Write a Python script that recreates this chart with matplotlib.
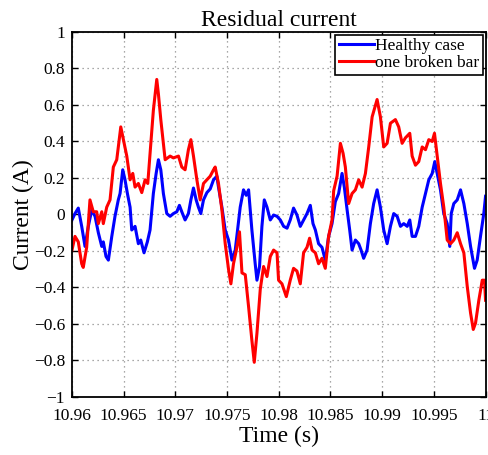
import numpy as np
import matplotlib
matplotlib.use("Agg")
import matplotlib.pyplot as plt
from matplotlib.ticker import FixedLocator, FuncFormatter

plt.rcParams['font.family'] = ['Liberation Serif', 'DejaVu Serif']

T0 = 10.96

# healthy machine, time in ms after T0
healthy_ms = [0.0, 0.29, 0.61, 0.94, 1.26, 1.58, 1.91, 2.23, 2.55, 2.88, 3.03, 3.29, 3.52,
              3.85, 4.16, 4.48, 4.65, 4.91, 5.13, 5.36, 5.62, 5.78, 6.10, 6.42, 6.65, 6.97,
              7.29, 7.55, 7.87, 8.14, 8.36, 8.59, 8.84, 9.17, 9.49, 9.81, 10.14, 10.39, 10.62,
              10.94, 11.26, 11.50, 11.75, 12.01, 12.23, 12.46, 12.72, 13.05, 13.37, 13.69,
              14.01, 14.17, 14.50, 14.82, 15.14, 15.47, 15.79, 16.01, 16.27, 16.59, 16.85,
              17.08, 17.40, 17.72, 17.89, 18.14, 18.37, 18.60, 18.86, 19.18, 19.50, 19.83,
              20.15, 20.47, 20.80, 21.11, 21.43, 21.76, 22.08, 22.40, 22.73, 23.05, 23.31,
              23.54, 23.85, 24.18, 24.50, 24.82, 25.15, 25.47, 25.79, 26.12, 26.34, 26.61,
              26.86, 27.09, 27.41, 27.73, 27.96, 28.21, 28.54, 28.86, 29.18, 29.51, 29.83,
              30.15, 30.48, 30.80, 31.12, 31.45, 31.77, 32.09, 32.42, 32.67, 32.90, 33.22,
              33.54, 33.87, 34.19, 34.51, 34.84, 35.09, 35.32, 35.64, 35.96, 36.29, 36.54,
              36.68, 36.93, 37.26, 37.58, 37.90, 38.23, 38.55, 38.93, 39.19, 39.51, 39.83,
              40.0]
healthy_i = [-0.03, 0.005, 0.035, -0.065, -0.175, -0.065, 0.025, -0.01, -0.10, -0.175, -0.15,
             -0.23, -0.25, -0.12, -0.01, 0.08, 0.115, 0.245, 0.19, 0.115, 0.04, -0.085, -0.065,
             -0.16, -0.14, -0.21, -0.15, -0.085, 0.115, 0.225, 0.30, 0.245, 0.115, 0.005, -0.01,
             0.005, 0.015, 0.05, 0.015, -0.03, 0.005, 0.08, 0.145, 0.08, 0.04, 0.005, 0.08,
             0.12, 0.14, 0.19, 0.21, 0.15, 0.04, -0.085, -0.14, -0.25, -0.195, -0.085, 0.04,
             0.135, 0.105, 0.135, -0.085, -0.27, -0.36, -0.285, -0.065, 0.08, 0.04, -0.03,
             -0.003, -0.01, -0.03, -0.065, -0.075, -0.03, 0.035, -0.003, -0.065, -0.03, 0.005,
             0.05, -0.05, -0.085, -0.16, -0.18, -0.25, -0.12, -0.05, 0.07, 0.115, 0.225, 0.15,
             0.025, -0.085, -0.195, -0.14, -0.16, -0.195, -0.24, -0.195, -0.05, 0.06, 0.135,
             0.04, -0.085, -0.16, -0.065, 0.005, -0.01, -0.065, -0.05, -0.065, -0.03, -0.12,
             -0.12, -0.065, 0.04, 0.115, 0.19, 0.225, 0.29, 0.225, 0.135, 0.005, -0.05, -0.175,
             0.005, 0.06, 0.08, 0.135, 0.06, -0.05, -0.175, -0.295, -0.25, -0.12, 0.005, 0.10]

# one broken rotor bar
broken_ms = [0.0, 0.29, 0.61, 0.94, 1.09, 1.42, 1.74, 2.06, 2.39, 2.55, 2.88, 3.03, 3.36, 3.68,
             4.00, 4.33, 4.72, 4.97, 5.30, 5.62, 5.88, 6.10, 6.42, 6.75, 7.07, 7.33, 7.55, 7.87,
             8.20, 8.36, 8.59, 9.01, 9.49, 9.81, 10.30, 10.62, 10.94, 11.26, 11.50, 11.75,
             12.08, 12.40, 12.72, 13.05, 13.37, 13.69, 13.85, 14.17, 14.50, 14.82, 15.14,
             15.37, 15.62, 15.95, 16.20, 16.44, 16.76, 17.08, 17.40, 17.63, 17.89, 18.21,
             18.53, 18.86, 19.18, 19.50, 19.83, 19.98, 20.31, 20.73, 21.11, 21.43, 21.76,
             22.08, 22.40, 22.73, 22.98, 23.22, 23.54, 23.85, 24.18, 24.50, 24.82, 25.15,
             25.31, 25.64, 25.96, 26.22, 26.44, 26.76, 27.09, 27.41, 27.73, 28.06, 28.38,
             28.70, 29.03, 29.51, 29.83, 30.15, 30.48, 30.80, 31.28, 31.60, 31.93, 32.25,
             32.67, 32.90, 33.22, 33.54, 33.87, 34.19, 34.51, 34.84, 35.06, 35.32, 35.64,
             35.96, 36.29, 36.61, 36.93, 37.26, 37.58, 37.90, 38.23, 38.55, 38.81, 39.03,
             39.35, 39.68, 39.90, 40.0]
broken_i = [-0.195, -0.12, -0.15, -0.27, -0.29, -0.18, 0.08, 0.015, 0.015, -0.05, 0.015, -0.05,
            0.04, 0.08, 0.26, 0.30, 0.48, 0.41, 0.32, 0.19, 0.225, 0.15, 0.17, 0.12, 0.19, 0.17,
            0.335, 0.57, 0.74, 0.66, 0.52, 0.30, 0.32, 0.31, 0.32, 0.26, 0.245, 0.355, 0.41,
            0.32, 0.19, 0.08, 0.17, 0.19, 0.21, 0.245, 0.26, 0.17, 0.025, -0.16, -0.30, -0.38,
            -0.27, -0.18, -0.095, -0.32, -0.33, -0.505, -0.69, -0.81, -0.65, -0.41, -0.285,
            -0.34, -0.23, -0.195, -0.21, -0.36, -0.38, -0.45, -0.36, -0.295, -0.31, -0.38,
            -0.21, -0.18, -0.13, -0.195, -0.21, -0.27, -0.24, -0.295, -0.12, -0.03, 0.13, 0.21,
            0.39, 0.335, 0.26, 0.06, 0.115, 0.135, 0.19, 0.15, 0.225, 0.37, 0.535, 0.63, 0.535,
            0.37, 0.39, 0.50, 0.52, 0.48, 0.39, 0.42, 0.445, 0.32, 0.27, 0.29, 0.37, 0.355,
            0.41, 0.40, 0.445, 0.32, 0.17, 0.04, -0.14, -0.16, -0.14, -0.10, -0.16, -0.21,
            -0.395, -0.54, -0.63, -0.595, -0.47, -0.36, -0.36, -0.47]

x_ticks = [10.96, 10.965, 10.97, 10.975, 10.98, 10.985, 10.99, 10.995, 11.0]
y_ticks = [-1, -0.8, -0.6, -0.4, -0.2, 0, 0.2, 0.4, 0.6, 0.8, 1]

t_healthy = T0 + np.array(healthy_ms) / 1000.0
t_broken = T0 + np.array(broken_ms) / 1000.0

fig = plt.figure(figsize=(4.88, 4.55), dpi=100)
ax = fig.add_axes([0.1475, 0.1275, 0.8475, 0.8022])

ax.plot(t_healthy, healthy_i, color='#0000ff', lw=2.2, label='Healthy case')
ax.plot(t_broken, broken_i, color='#ff0000', lw=2.2, label='one broken bar')

ax.set_xlim(10.96, 11.0)
ax.set_ylim(-1, 1)
ax.xaxis.set_major_locator(FixedLocator(x_ticks))
ax.yaxis.set_major_locator(FixedLocator(y_ticks))
ax.xaxis.set_major_formatter(FuncFormatter(lambda v, p: '%g' % round(v, 3)))
ax.yaxis.set_major_formatter(FuncFormatter(lambda v, p: ('%g' % round(v, 1)).replace('-', '\u2212')))

# sparse dotted grid
ax.grid(True, linestyle=(0, (1, 3)), color='#8c8c8c', linewidth=0.9)
ax.tick_params(direction='in', top=True, right=True, length=4, width=1,
               labelsize=12.5)
ax.tick_params(axis='x', pad=8)
ax.tick_params(axis='y', pad=5)
for s in ax.spines.values():
    s.set_linewidth(1.3)

ax.set_title('Residual current', fontsize=17, pad=4)
ax.set_xlabel('Time (s)', fontsize=17, labelpad=1)
ax.set_ylabel('Current (A)', fontsize=17, labelpad=0)

leg = ax.legend(loc='upper right', fontsize=12.5, fancybox=False, framealpha=1,
                edgecolor='black', borderaxespad=0.15, borderpad=0.2,
                handlelength=2.0, handletextpad=0.1, labelspacing=0.05)
leg.get_frame().set_linewidth(1.2)

fig.savefig('out.png', dpi=100)
